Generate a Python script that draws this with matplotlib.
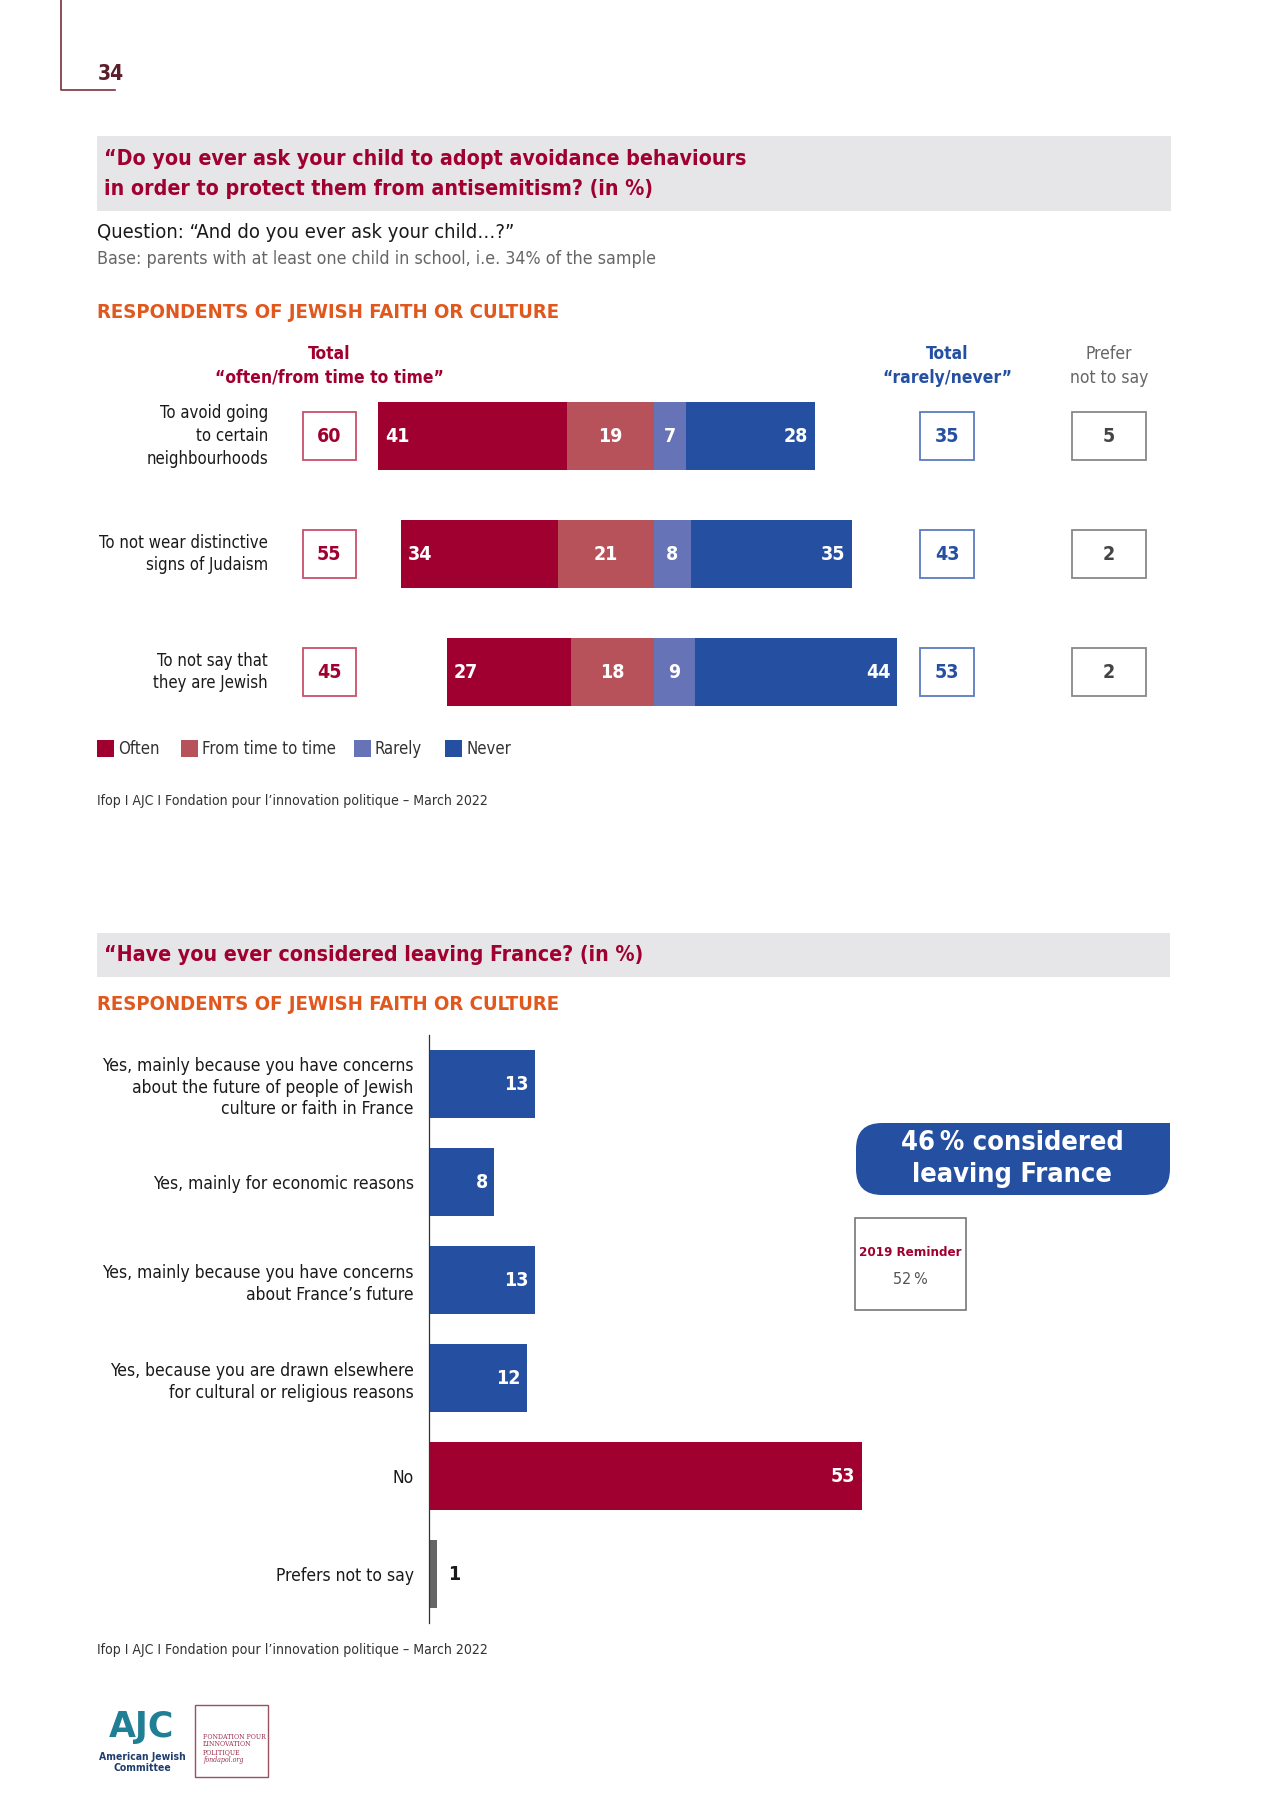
import matplotlib

matplotlib.use("Agg")
import matplotlib.pyplot as plt
from matplotlib.patches import Rectangle, FancyBboxPatch

W, H = 1280, 1809
plt.rcParams["font.family"] = ["DejaVu Sans"]
plt.rcParams["font.stretch"] = "condensed"

CRIMSON, PINK, LILAC, BLUE = "#A00030", "#B8525A", "#6673B6", "#2550A2"
ORANGE, GREYBG, INK, MUTED = "#E0581E", "#E6E6E8", "#1A1A1A", "#666666"

# --- chart 1 data ---
ROWS1 = ["To avoid going\nto certain\nneighbourhoods",
         "To not wear distinctive\nsigns of Judaism",
         "To not say that\nthey are Jewish"]
OFTEN = [41, 34, 27]
FROM_TIME = [19, 21, 18]
RARELY = [7, 8, 9]
NEVER = [28, 35, 44]
TOTAL_OFTEN = [60, 55, 45]
TOTAL_RARELY = [35, 43, 53]
PREFER_NOT = [5, 2, 2]
LEGEND = ["Often", "From time to time", "Rarely", "Never"]

# --- chart 2 data ---
ROWS2 = ["Yes, mainly because you have concerns\nabout the future of people of Jewish\nculture or faith in France",
         "Yes, mainly for economic reasons",
         "Yes, mainly because you have concerns\nabout France\u2019s future",
         "Yes, because you are drawn elsewhere\nfor cultural or religious reasons",
         "No",
         "Prefers not to say"]
VALUES2 = [13, 8, 13, 12, 53, 1]
COLORS2 = [BLUE, BLUE, BLUE, BLUE, CRIMSON, MUTED]

SOURCE = "Ifop I AJC I Fondation pour l\u2019innovation politique \u2013 March 2022"

# layout (pixels)
ROW_Y1 = [436, 554, 672]
ROW_STEP1 = 118
ZERO1, PX1 = 654, 4.594
ROW_STEP2 = 98
TOP2, AXIS2, PX2 = 1035, 429, 8.17

fig = plt.figure(figsize=(W / 100, H / 100), dpi=100)
bg = fig.add_axes([0, 0, 1, 1])
bg.set_xlim(0, W)
bg.set_ylim(H, 0)
bg.axis("off")


def txt(x, y, s, **kw):
    kw.setdefault("va", "center")
    kw.setdefault("color", INK)
    bg.text(x, y, s, **kw)


# page corner
bg.plot([61, 61, 115], [0, 90, 90], color="#7A3040", lw=1.2)
txt(98, 74, "34", fontsize=15, fontweight="bold", color="#5A1F2B")

# ---------- section 1 ----------
bg.add_patch(Rectangle((97, 136), 1074, 75, color=GREYBG, lw=0))
txt(104, 159, "\u201cDo you ever ask your child to adopt avoidance behaviours",
    fontsize=15.3, fontweight="bold", color=CRIMSON)
txt(104, 189, "in order to protect them from antisemitism? (in %)",
    fontsize=15.3, fontweight="bold", color=CRIMSON)
txt(97, 232, "Question: \u201cAnd do you ever ask your child\u2026?\u201d", fontsize=14.5)
txt(97, 259, "Base: parents with at least one child in school, i.e. 34% of the sample",
    fontsize=12.8, color=MUTED)
txt(97, 312, "RESPONDENTS OF JEWISH FAITH OR CULTURE", fontsize=14.6,
    fontweight="bold", color=ORANGE)

for x, lines, col, wt in [(329, ("Total", "\u201coften/from time to time\u201d"), CRIMSON, "bold"),
                          (947, ("Total", "\u201crarely/never\u201d"), BLUE, "bold"),
                          (1109, ("Prefer", "not to say"), MUTED, "normal")]:
    for k, s in enumerate(lines):
        txt(x, 354 + 24 * k, s, ha="center", fontsize=12.5, fontweight=wt, color=col)

for i, y in enumerate(ROW_Y1):
    txt(268, y, ROWS1[i], ha="right", fontsize=12, linespacing=1.35)
    for cx, w, val, col, ec in [(329, 53, TOTAL_OFTEN[i], CRIMSON, "#C8506A"),
                                (947, 54, TOTAL_RARELY[i], BLUE, "#5A7CC0"),
                                (1109, 74, PREFER_NOT[i], "#444444", "#888888")]:
        bg.add_patch(Rectangle((cx - w / 2, y - 24), w, 48, fc="white", ec=ec, lw=1.3))
        txt(cx, y, str(val), ha="center", fontsize=14, fontweight="bold", color=col)

ax1_left, ax1_right = 300, 960
top1 = ROW_Y1[0] - ROW_STEP1 / 2
ax1 = fig.add_axes([ax1_left / W, 1 - (top1 + 3 * ROW_STEP1) / H,
                    (ax1_right - ax1_left) / W, 3 * ROW_STEP1 / H])
ax1.set_xlim((ax1_left - ZERO1) / PX1, (ax1_right - ZERO1) / PX1)
ax1.set_ylim(2.5, -0.5)
ax1.axis("off")
ax1.patch.set_alpha(0)
ys = range(len(ROWS1))
h = 0.57
left_often = [-(a + b) for a, b in zip(OFTEN, FROM_TIME)]
ax1.barh(ys, OFTEN, left=left_often, height=h, color=CRIMSON, label=LEGEND[0])
ax1.barh(ys, FROM_TIME, left=[-b for b in FROM_TIME], height=h, color=PINK, label=LEGEND[1])
ax1.barh(ys, RARELY, left=0, height=h, color=LILAC, label=LEGEND[2])
ax1.barh(ys, NEVER, left=RARELY, height=h, color=BLUE, label=LEGEND[3])
lab = dict(va="center", color="white", fontsize=14, fontweight="bold")
for i in ys:
    ax1.text(left_often[i] + 1.4, i, str(OFTEN[i]), ha="left", **lab)
    ax1.text(-FROM_TIME[i] / 2, i, str(FROM_TIME[i]), ha="center", **lab)
    ax1.text(RARELY[i] / 2, i, str(RARELY[i]), ha="center", **lab)
    ax1.text(RARELY[i] + NEVER[i] - 1.4, i, str(NEVER[i]), ha="right", **lab)

# legend
for (x, name), col in zip([(97, LEGEND[0]), (181, LEGEND[1]), (354, LEGEND[2]), (445, LEGEND[3])],
                          [CRIMSON, PINK, LILAC, BLUE]):
    bg.add_patch(Rectangle((x, 740), 17, 17, color=col, lw=0))
    txt(x + 21, 749, name, fontsize=12, color="#333333")

txt(97, 801, SOURCE, fontsize=10.1, color="#333333")

# ---------- section 2 ----------
bg.add_patch(Rectangle((97, 933), 1073, 44, color=GREYBG, lw=0))
txt(104, 955, "\u201cHave you ever considered leaving France? (in %)", fontsize=15.3,
    fontweight="bold", color=CRIMSON)
txt(97, 1004, "RESPONDENTS OF JEWISH FAITH OR CULTURE", fontsize=14.6,
    fontweight="bold", color=ORANGE)

ax2_right = 1100
n2 = len(ROWS2)
ax2 = fig.add_axes([AXIS2 / W, 1 - (TOP2 + n2 * ROW_STEP2) / H,
                    (ax2_right - AXIS2) / W, n2 * ROW_STEP2 / H])
ax2.set_xlim(0, (ax2_right - AXIS2) / PX2)
ax2.set_ylim(n2 - 0.5, -0.5)
ax2.patch.set_alpha(0)
ax2.barh(range(n2), VALUES2, height=0.69, color=COLORS2)
for side in ("top", "right", "bottom"):
    ax2.spines[side].set_visible(False)
ax2.spines["left"].set_color("#333333")
ax2.spines["left"].set_linewidth(0.9)
ax2.set_xticks([])
ax2.set_yticks(range(n2))
ax2.set_yticklabels(ROWS2, fontsize=12.5, linespacing=1.25, color=INK)
ax2.tick_params(axis="y", length=0, pad=11)
for i, v in enumerate(VALUES2):
    if v >= 5:
        ax2.text(v - 0.8, i, str(v), ha="right", va="center", color="white",
                 fontsize=14, fontweight="bold")
    else:
        ax2.text(v + 1.3, i, str(v), ha="left", va="center", color=INK,
                 fontsize=14, fontweight="bold")

# highlight box: rounded, with a square top-right corner
bg.add_patch(FancyBboxPatch((856, 1123), 314, 72, boxstyle="round,pad=0,rounding_size=26",
                            fc=BLUE, ec="none"))
bg.add_patch(Rectangle((1120, 1123), 50, 30, fc=BLUE, ec="none"))
txt(1012, 1143, "46\u2009% considered", ha="center", fontsize=19.5, fontweight="bold",
    color="white")
txt(1012, 1175, "leaving France", ha="center", fontsize=19.5, fontweight="bold",
    color="white")
bg.add_patch(Rectangle((855, 1218), 111, 92, fc="white", ec="#777777", lw=1.2))
txt(910, 1252, "2019 Reminder", ha="center", fontsize=9.5, fontweight="bold", color=CRIMSON)
txt(910, 1280, "52\u2009%", ha="center", fontsize=11.5, color="#555555")

txt(97, 1650, SOURCE, fontsize=10.1, color="#333333")

# logos
txt(142, 1727, "AJC", ha="center", fontsize=25, fontweight="bold", color="#1E7F95",
    fontstretch="normal")
txt(142, 1757, "American Jewish", ha="center", fontsize=7.5, fontweight="bold", color="#1F3E6E")
txt(142, 1768, "Committee", ha="center", fontsize=7.5, fontweight="bold", color="#1F3E6E")
bg.add_patch(Rectangle((195, 1705), 73, 72, fc="white", ec="#9A5060", lw=1))
for k, (s, st) in enumerate([("FONDATION POUR", "normal"), ("L\u2019INNOVATION", "normal"),
                             ("POLITIQUE", "normal"), ("fondapol.org", "italic")]):
    txt(203, 1737 + 7.5 * k, s, fontsize=5, color="#9A3050", family=["DejaVu Serif"],
        style=st)

fig.savefig("out.png", dpi=100)
